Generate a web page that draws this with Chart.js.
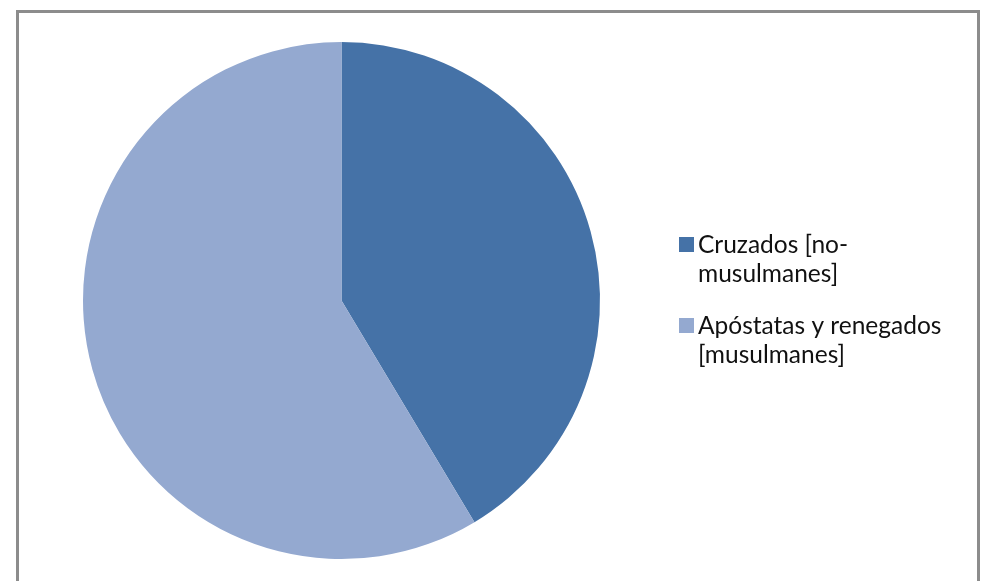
<!DOCTYPE html>
<html>
<head>
<meta charset="utf-8">
<script src="https://cdn.jsdelivr.net/npm/chart.js@4/dist/chart.umd.min.js"></script>
<style>
  html, body { margin: 0; padding: 0; background: #ffffff; }
  #wrap { position: relative; width: 984px; height: 581px; overflow: hidden; }
  #frame { position: absolute; left: 16px; top: 10px; width: 958px; height: 600px;
           border: 3px solid #8c8c8c; box-sizing: content-box; }
  #c { position: absolute; left: 0; top: 0; }
</style>
</head>
<body>
<div id="wrap">
  <div id="frame"></div>
  <canvas id="c" width="984" height="581"></canvas>
</div>
<script>
// ---- data ----
const categories = ["Cruzados [no-musulmanes]", "Apóstatas y renegados [musulmanes]"];
const legendLines = [["Cruzados [no-", "musulmanes]"], ["Apóstatas y renegados", "[musulmanes]"]];
const values = [41.4, 58.6];
const colors = ["#4572A7", "#94A9D0"];

const wrappedLegend = {
  id: 'wrappedLegend',
  afterDraw(chart) {
    const ctx = chart.ctx;
    const box = 15, boxX = 679, textX = 698;
    const lineH = 29;
    const entryStarts = [245, 326];
    ctx.save();
    ctx.font = '24.5px Lato, "Open Sans", sans-serif';
    ctx.textBaseline = 'middle';
    chart.data.labels.forEach((_, i) => {
      const y0 = entryStarts[i];
      const bg = chart.data.datasets[0].backgroundColor[i];
      ctx.fillStyle = bg;
      ctx.fillRect(boxX, y0 - 8, box, box);
      ctx.fillStyle = '#111111';
      legendLines[i].forEach((ln, j) => {
        ctx.fillText(ln, textX, y0 + j * lineH);
      });
    });
    ctx.restore();
  }
};

new Chart(document.getElementById('c'), {
  type: 'pie',
  data: {
    labels: categories,
    datasets: [{
      data: values,
      backgroundColor: colors,
      borderWidth: 0
    }]
  },
  options: {
    responsive: false,
    animation: false,
    layout: { padding: { left: 83, right: 384, top: 42, bottom: 22 } },
    plugins: {
      legend: { display: false },
      tooltip: { enabled: false }
    }
  },
  plugins: [wrappedLegend]
});
</script>
</body>
</html>
